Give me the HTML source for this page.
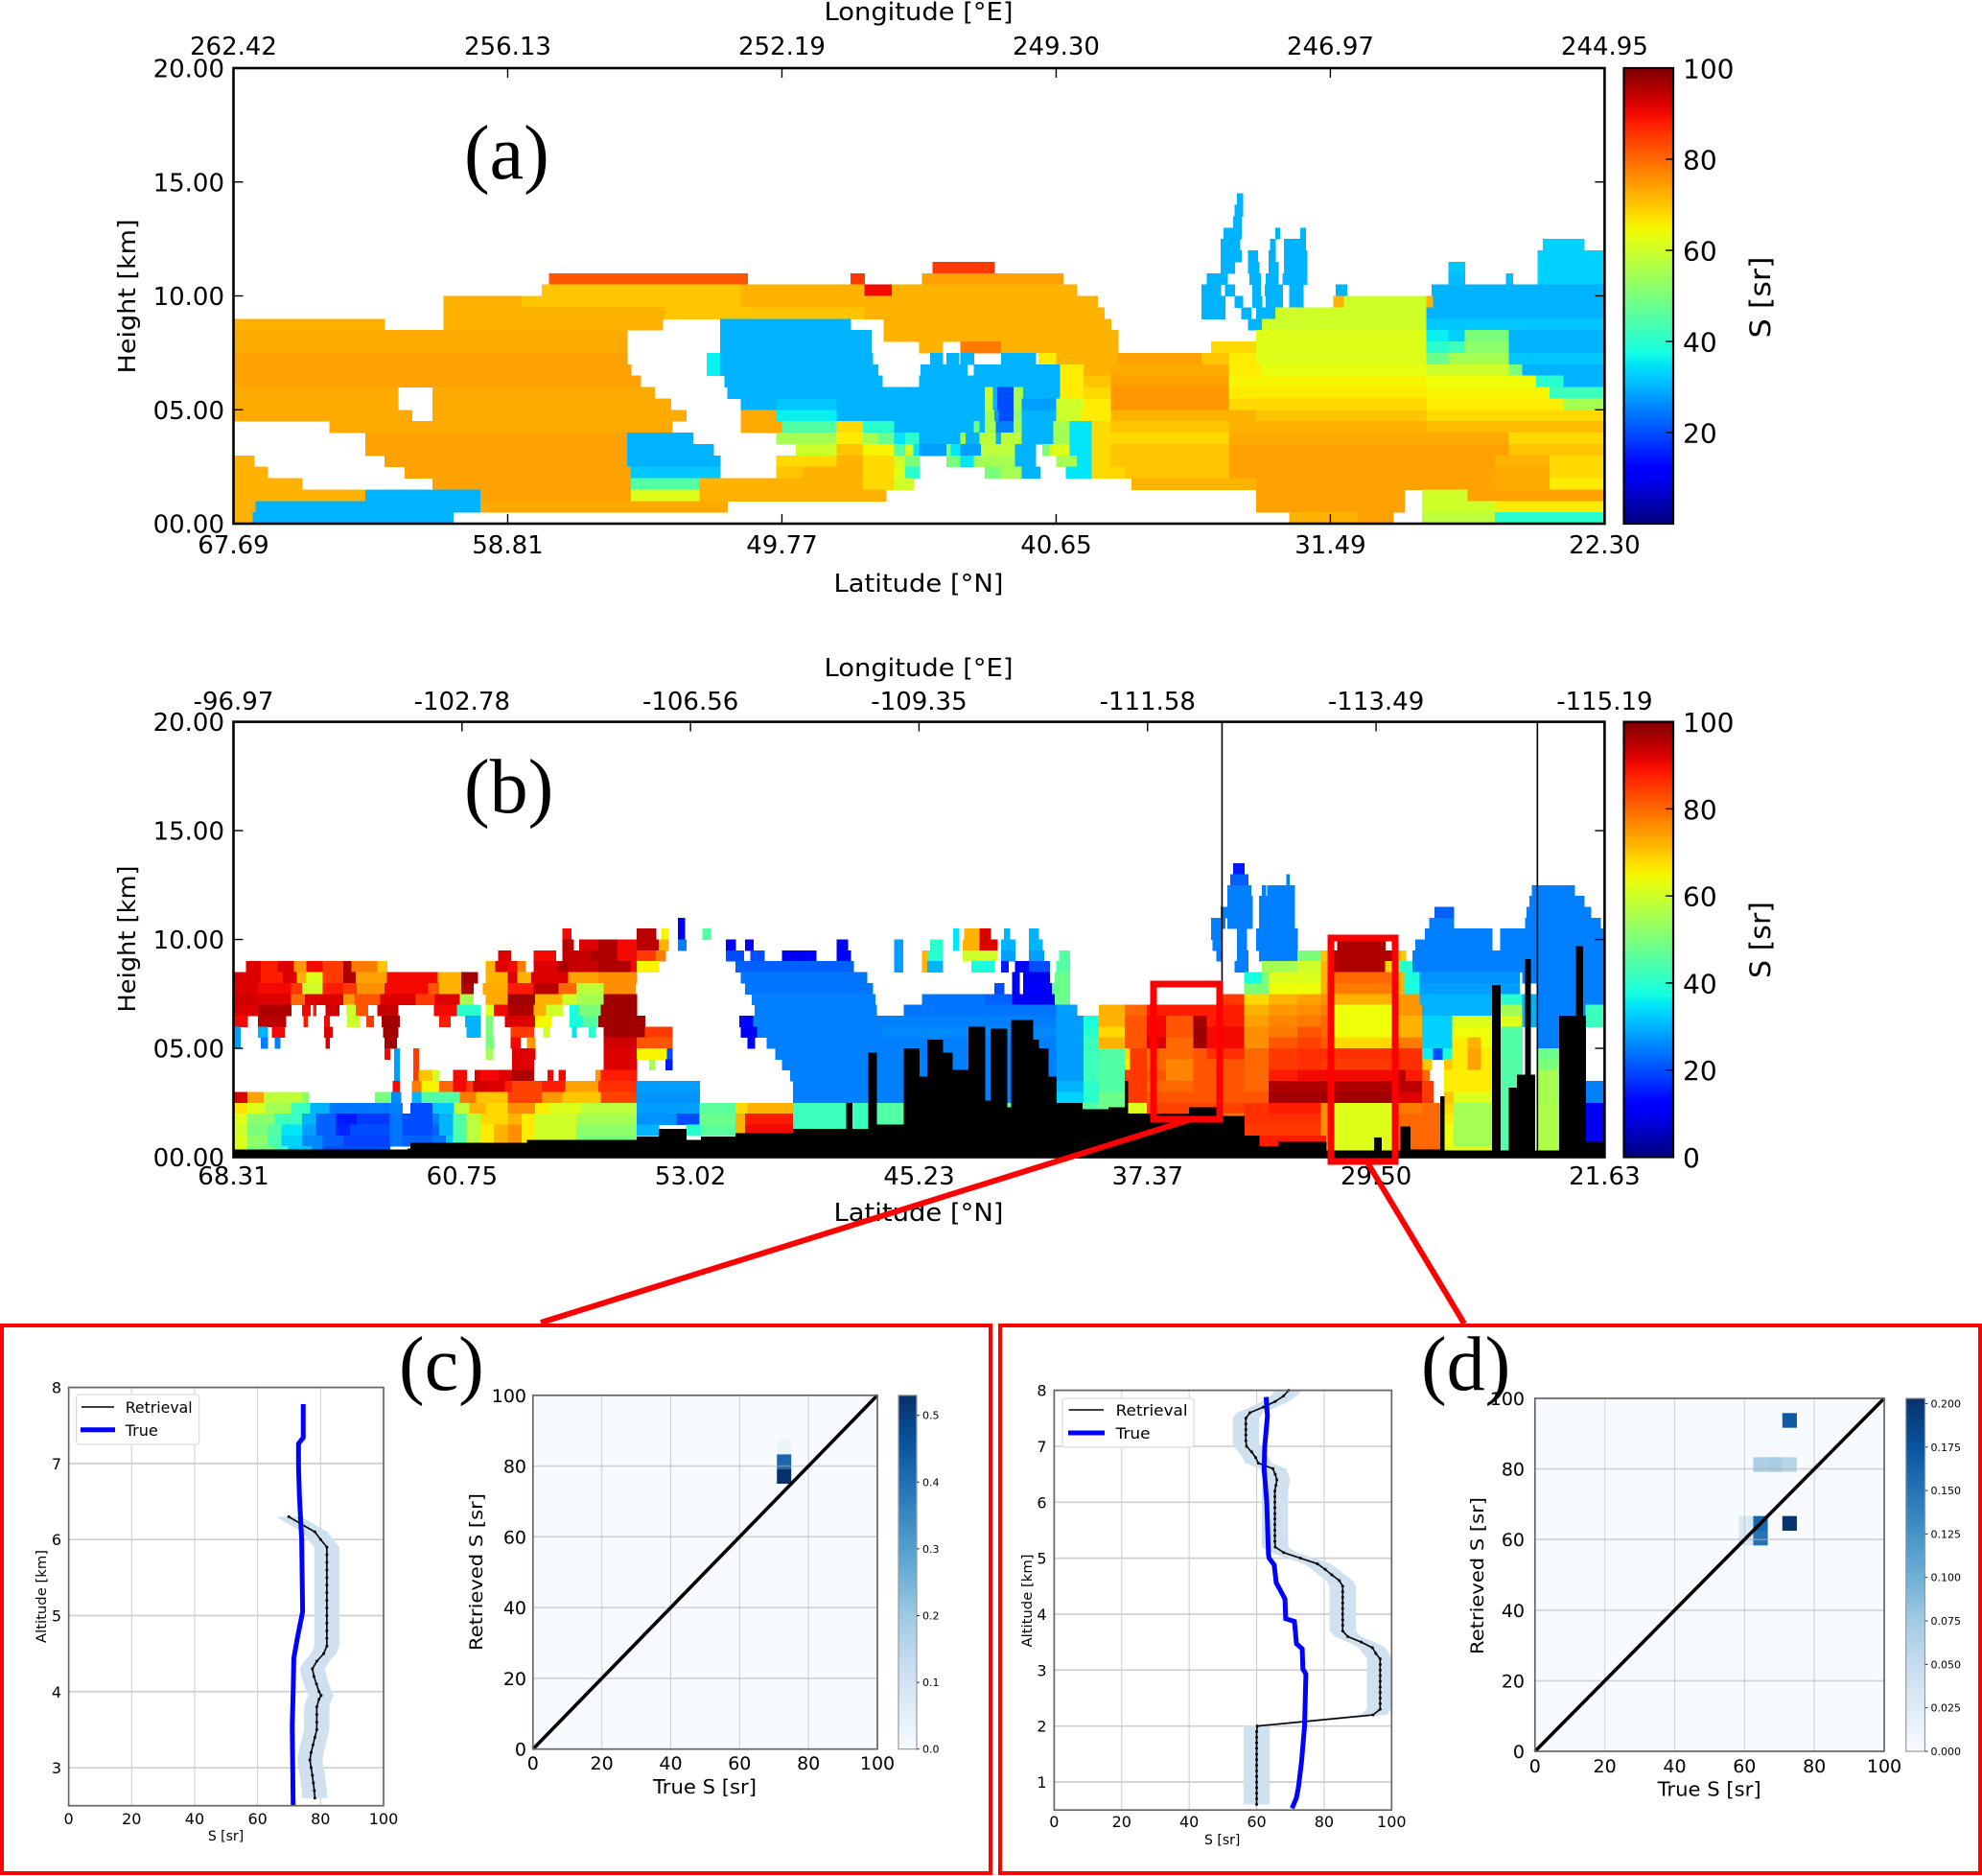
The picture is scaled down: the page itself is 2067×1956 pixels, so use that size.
<!DOCTYPE html>
<html lang="en">
<head>
<meta charset="utf-8">
<title>Lidar ratio curtains and profiles</title>
<style>
html,body{margin:0;padding:0;background:#fff;}
svg{display:block;}
text{font-family:"DejaVu Sans","Liberation Sans",sans-serif;fill:#000;}
.panel{font-family:"Liberation Serif","DejaVu Serif",serif;font-size:80px;}
</style>
</head>
<body>
<svg id="fig" xmlns="http://www.w3.org/2000/svg" width="2067" height="1956" viewBox="0 0 2067 1956">
  <defs id="defs"></defs>
  <g id="layer-a"></g>
  <g id="layer-b"></g>
  <g id="layer-c"></g>
  <g id="layer-d"></g>

  <text class="panel" x="484" y="186">(a)</text>
  <text class="panel" x="484" y="847">(b)</text>
  <text class="panel" x="416" y="1449">(c)</text>
  <text class="panel" x="1482" y="1449">(d)</text>

  <text x="958" y="21" font-size="26" text-anchor="middle" textLength="197" lengthAdjust="spacingAndGlyphs">Longitude  [°E]</text>
  <text x="958" y="617" font-size="26" text-anchor="middle" textLength="177" lengthAdjust="spacingAndGlyphs">Latitude  [°N]</text>
  <text transform="translate(141,309) rotate(-90)" font-size="25" text-anchor="middle" textLength="161" lengthAdjust="spacingAndGlyphs">Height [km]</text>
  <text transform="translate(1846,310) rotate(-90)" font-size="29" text-anchor="middle" textLength="85" lengthAdjust="spacingAndGlyphs">S [sr]</text>

  <text x="958" y="705" font-size="26" text-anchor="middle" textLength="197" lengthAdjust="spacingAndGlyphs">Longitude  [°E]</text>
  <text x="958" y="1273" font-size="26" text-anchor="middle" textLength="177" lengthAdjust="spacingAndGlyphs">Latitude  [°N]</text>
  <text transform="translate(141,979) rotate(-90)" font-size="25" text-anchor="middle" textLength="153" lengthAdjust="spacingAndGlyphs">Height [km]</text>
  <text transform="translate(1846,980) rotate(-90)" font-size="29" text-anchor="middle" textLength="80" lengthAdjust="spacingAndGlyphs">S [sr]</text>

  <text x="235.5" y="1919" font-size="14" text-anchor="middle">S [sr]</text>
  <text transform="translate(48,1664.5) rotate(-90)" font-size="14" text-anchor="middle" textLength="97" lengthAdjust="spacingAndGlyphs">Altitude [km]</text>
  <text x="735" y="1870" font-size="20" text-anchor="middle" textLength="108" lengthAdjust="spacingAndGlyphs">True S [sr]</text>
  <text transform="translate(503,1639) rotate(-90)" font-size="19" text-anchor="middle" textLength="164" lengthAdjust="spacingAndGlyphs">Retrieved S [sr]</text>

  <text x="1274.7" y="1923" font-size="14" text-anchor="middle">S [sr]</text>
  <text transform="translate(1076,1669) rotate(-90)" font-size="14" text-anchor="middle" textLength="97" lengthAdjust="spacingAndGlyphs">Altitude [km]</text>
  <text x="1782.6" y="1872.6" font-size="20" text-anchor="middle" textLength="108" lengthAdjust="spacingAndGlyphs">True S [sr]</text>
  <text transform="translate(1547,1643) rotate(-90)" font-size="19" text-anchor="middle" textLength="164" lengthAdjust="spacingAndGlyphs">Retrieved S [sr]</text>

  <g>
    <rect x="79.6" y="1454" width="128" height="52" rx="3" fill="#fff" fill-opacity="0.85" stroke="#ddd" stroke-width="1.3"/>
    <line x1="85" x2="119" y1="1467" y2="1467" stroke="#000" stroke-width="1.6"/>
    <line x1="84" x2="120" y1="1490.7" y2="1490.7" stroke="#0000ff" stroke-width="5"/>
    <text x="130.7" y="1473" font-size="16" textLength="70" lengthAdjust="spacingAndGlyphs">Retrieval</text>
    <text x="130.7" y="1497" font-size="16" textLength="34" lengthAdjust="spacingAndGlyphs">True</text>
  </g>
  <g>
    <rect x="1108" y="1458" width="137" height="51" rx="3" fill="#fff" fill-opacity="0.85" stroke="#ddd" stroke-width="1.3"/>
    <line x1="1114.7" x2="1151" y1="1470" y2="1470" stroke="#000" stroke-width="1.6"/>
    <line x1="1114" x2="1152" y1="1494" y2="1494" stroke="#0000ff" stroke-width="5"/>
    <text x="1163.6" y="1476" font-size="16" textLength="75" lengthAdjust="spacingAndGlyphs">Retrieval</text>
    <text x="1163.6" y="1500" font-size="16" textLength="36" lengthAdjust="spacingAndGlyphs">True</text>
  </g>

  <g fill="none" stroke="#ff0000">
    <rect x="1203" y="1026" width="69" height="141" stroke-width="7"/>
    <rect x="1388" y="978" width="67" height="233" stroke-width="7"/>
    <line x1="1239" y1="1168" x2="564" y2="1379" stroke-width="6"/>
    <line x1="1426" y1="1212" x2="1527" y2="1380" stroke-width="6"/>
    <rect x="2" y="1382" width="1031" height="571" stroke-width="4"/>
    <rect x="1043" y="1382" width="1022" height="571" stroke-width="4"/>
  </g>
</svg>

<script>
/* ---------- panel (a) curtain: lower edge of each 0.5 km row, then S,xEnd run pairs (x = % along track, S 0 = no data) ---------- */
const heightsA = [14,13.5,13,12.5,12,11.5,11,10.5,10,9.5,9,8.5,8,7.5,7,6.5,6,5.5,5,4.5,4,3.5,3,2.5,2,1.5,1,0.5,0];
const runsA = [
[0,73.2,30,73.6,0,100],
[0,73,30,73.6,0,100],
[0,72.9,30,73.5,0,100],
[0,72.2,30,73.5,0,76,30,76.3,0,77.8,30,78.2,0,100],
[0,72,30,73.4,0,75.6,30,76,0,76.6,30,78.2,0,95.5,33,98.5,0,100],
[0,72,30,73.5,0,74,30,74.7,0,75.5,30,76,0,76.6,30,78.3,0,95.1,33,100],
[0,51,85,55.5,0,72,30,73,0,74,30,74.8,0,75.5,30,76.2,0,76.6,30,78.3,0,88.6,32,89.8,0,95.1,33,100],
[0,23,82,37.5,0,45,85,46,0,50.2,74,60.5,0,71,30,72.5,0,74.1,30,74.9,0,75.3,30,76.2,0,76.5,30,78.3,0,88.6,31,89.8,0,92.8,31,93.3,0,95.1,33,100],
[0,22.5,70,37,72,46,90,48,72,61.5,0,70.6,30,72,0,72.3,30,73,0,74.3,30,74.9,0,75.2,30,76.5,0,77,30,78,0,80.4,30,81.2,0,87.4,30,100],
[0,15.3,72,21,70,37,72,63,0,70.6,30,72.3,0,73,30,73.6,0,74.3,30,75,0,75.3,30,76.5,0,77,30,78,0,80.2,72,81,60,87,72,87.5,30,100],
[0,15.3,72,31.5,70,46,72,63.5,0,70.6,30,72.3,0,73.5,30,74.2,0,74.6,30,76,60,87,30,100],
[72,11,0,15.3,72,31.3,0,35.5,30,45,0,47.4,72,64,0,74,30,75,60,87,32,100],
[73,28.7,0,35.5,30,46.5,0,47.4,72,64.5,0,74.6,62,87,36,88.6,33,89.8,50,93,30,100],
[73,28.7,0,35.5,30,46.5,0,50,72,51.7,0,53,78,56,72,64.5,0,71.3,68,74.6,62,87,40,88.6,42,89.8,52,93,30,100],
[74,28.7,0,34.5,36,35.5,30,46.6,0,50.8,30,51.7,0,52,30,52.9,0,53,30,54,0,56,30,58.5,0,58.7,66,60,72,64.5,74,70.6,70,72.6,66,74.6,62,87,48,88.6,55,93,32,100],
[74,29,0,34.5,36,35.5,30,47,0,50.1,30,53.5,0,54,30,60.3,66,62,72,64,73,72.6,66,75,63,87,60,93,50,94,30,100],
[74,29.7,0,35.8,30,47.3,0,50,30,60.3,66,62,70,64,74,72.6,65,87,64,95,40,97,30,100],
[73,12,0,14.5,73,30.7,0,36,30,54.8,60,55.4,30,55.7,20,56.9,55,57.6,30,60.3,66,62,68,64,75,72.6,66,87,65,96,42,100],
[73,12,0,14.5,73,31.9,0,37,30,39.6,32,44,30,54.8,58,55.4,30,55.7,20,56.9,55,57.5,28,60,60,62,66,64,75,72.6,68,87,66,97,55,100],
[73,13,0,14.5,73,33,0,37,73,39.6,36,44,30,54.8,55,55.5,28,55.8,20,56.9,52,57.5,30,60,60,61.8,66,64,72,74.6,70,87,68,100],
[0,7,73,32,0,37,73,40,45,44,68,45.9,40,48.2,30,54,48,54.4,30,54.8,55,55.6,25,56.9,55,57.5,30,59.8,55,61,35,62.6,68,64,70,72.6,72,87,71,100],
[0,9.6,74,28.7,30,33.5,0,39.6,55,44,66,45.9,55,47,48,48.2,35,49,40,50,30,53,55,53.4,30,54.4,58,55.6,30,56,58,57.5,30,59.8,55,61,35,62.6,68,72.6,73,93,68,100],
[0,9.6,74,28.7,30,35,0,41,60,44,70,45.9,65,48.2,45,49,60,49.6,35,50,28,52,50,52.3,35,53,28,54.5,58,57,30,58.5,0,59,50,59.5,62,61,35,62.6,68,64,70,72.6,74,93,70,100],
[72,1.5,0,11,74,28.7,30,35.5,0,39.6,68,44,72,45.9,68,48.2,60,49,50,50,0,52,50,53,35,54,55,57,30,58.5,0,60,55,61.5,35,62.6,68,64,70,72.6,74,92,72,96,68,100],
[72,2.5,0,12.5,74,29,32,35.5,0,39.6,70,41.5,72,45.9,68,48.2,62,49,40,50,0,54.8,50,56,55,57.5,30,58.8,0,60.7,35,62.6,68,65,70,72.6,74,92,73,96,68,100],
[72,5,0,14.5,74,29,45,34,72,45.9,68,48.2,60,49.6,0,65.5,72,74.6,74,92,73,96,66,100],
[72,9.6,30,18,74,29,62,34,72,47.6,0,74.6,74,85.4,0,86.7,60,90,74,100],
[72,1.6,30,18,73,36,0,74.6,74,85.4,0,86.7,60,92,66,100],
[72,1.4,30,16,0,77,72,82,74,84.6,0,86.7,58,92,40,100]
];

/* ---------- panel (b) curtain ---------- */
const heightsB = [13,12.5,12,11.5,11,10.5,10,9.5,9,8.5,8,7.5,7,6.5,6,5.5,5,4.5,4,3.5,3,2.5,2,1.5,1,0.5,0];
const runsB = [
[0,72.9,15,73.7,0,100],
[0,72.7,22,74,0,76.8,25,77,0,100],
[0,72.5,25,74.2,0,75,25,75.3,0,75.4,25,77.4,0,94.7,25,97.8,0,100],
[0,72.5,25,74.3,0,74.8,25,77.4,0,94.5,25,98.5,0,100],
[0,72,25,74.3,0,74.8,25,77.4,0,87.6,22,89,0,94.3,25,99,0,100],
[0,32.4,12,32.9,0,71.3,25,72.3,0,72.5,25,74.3,0,74.8,25,77.4,0,87.2,25,89,0,94.2,25,99.7,0,100],
[0,24,90,24.6,0,29.4,95,30.8,0,31.2,65,31.7,0,32.4,12,32.9,0,34.2,45,34.8,0,52.5,35,52.9,0,53.3,72,54.4,92,55.2,0,56.2,30,56.6,0,58,30,58.7,0,71.3,25,72.1,0,73.2,25,73.9,0,74.6,25,77.6,0,86.9,25,91.8,0,92.4,25,100],
[0,24,95,24.8,0,25.2,92,26.6,96,28,90,29.4,95,31,72,31.7,0,32.4,25,33,0,35.9,10,36.6,0,37.3,12,37.9,0,44,10,44.8,0,48.2,28,48.8,0,50.8,40,51.7,0,52.5,35,52.9,0,53.2,72,54.4,92,55.7,0,56,30,57,0,58,30,59,0,71.4,25,72,0,73.2,25,73.9,0,74.6,25,77.6,0,80.5,96,84,0,86.2,25,91.8,0,92.4,25,100],
[0,19.3,92,20.2,0,21.9,90,23.5,0,24,94,26,96,28,90,29.4,85,30.8,78,31.5,0,35.9,20,37.2,0,37.7,20,38.7,0,40,10,41.7,12,42.5,0,44,12,45,0,48.2,28,48.8,0,50.2,72,50.6,40,51.7,0,53.2,60,55.7,0,56,28,57,0,58,28,59.1,0,60.2,45,61,0,71.7,25,72.1,0,73.2,25,74,0,74.8,25,77.6,50,79.3,70,80.3,96,84.5,70,85.5,0,86,25,100],
[0,0.9,92,2,88,3.2,92,4.4,75,5.3,90,6.5,85,8,96,8.6,78,10.5,70,11.2,0,18.4,72,19.1,92,20,90,20.7,78,21.3,0,21.9,92,23.7,97,24.4,94,26.6,96,29,90,29.4,65,31,0,36.6,22,45.2,0,48.2,28,48.8,0,50.2,72,50.6,30,51.7,0,53.8,38,55.5,0,56,15,56.5,0,57,12,58,20,59.5,0,60,45,61,0,73,25,74,0,75,55,77.6,60,79.3,72,80.3,96,84,68,85,40,86,25,100],
[92,2,88,3.6,92,4.6,72,5.3,62,6.5,85,8,96,8.9,74,11.2,90,14.9,72,16.6,97,17.8,0,18.4,72,20,92,20.7,72,21.7,92,24.4,74,26.6,76,29.4,0,37,24,46.2,0,56.8,10,57.3,0,57.6,10,59.5,0,59.9,48,61,0,73.7,38,75,50,75.5,62,79.3,72,80.3,80,84.5,72,85.4,38,86.5,27,93.8,0,94,25,100],
[92,1.8,90,4.2,85,5,60,6.5,88,8,85,9,76,11,90,14.2,82,15,72,16.6,96,17.5,0,18.2,73,20,88,21.9,95,23.7,80,25,58,27,76,29.3,0,37.3,24,46.6,0,55.5,20,56.2,0,56.8,10,57.3,0,57.6,12,59.7,48,61,0,73.7,50,75.5,64,79.3,72,80.3,78,84.5,72,85.4,38,86.5,28,93.8,0,95.1,25,100],
[93,1.6,92,4.2,80,5.2,92,8,75,8.8,82,10.7,92,13.3,85,14.7,92,16.5,55,17.5,0,18.4,73,20,97,22,72,24,60,25,55,27,97,29.4,0,37.8,25,46.8,0,50.2,24,54.8,22,56.8,10,59.9,48,61,0,72.1,85,73.7,68,75.5,72,77.6,74,79.3,76,80.3,72,84.5,75,86.5,30,92.4,40,94,30,95.1,25,100],
[92,1.8,96,4.2,0,5,90,5.6,0,5.8,88,6,0,6.7,93,7.7,0,8.2,60,8.9,82,9.8,0,10.5,94,12,0,14.6,90,16.3,40,18,0,18.4,62,19,90,20,96,21.9,72,22.8,60,24,0,24.5,38,25.2,50,26.8,97,29.4,0,38,25,46.9,0,48.9,24,60,28,61.5,0,63.1,72,65,80,66.6,88,73.7,72,75.5,75,77.6,76,79.3,78,80.3,64,84.5,75,86.7,30,92.4,55,94,30,95.1,25,98.6,42,100],
[90,1,0,1.8,95,3.8,0,5.1,88,5.4,0,6.6,90,7,0,8.3,60,9.2,0,9.7,85,10.2,0,10.8,97,12.1,0,15,88,15.8,0,16.9,30,18,0,18.4,50,18.9,0,19.8,92,22,65,23.2,0,24.5,38,25.5,45,26.6,97,30,0,36.9,13,37.9,25,60,28,62,38,63.1,72,65,82,66.6,90,68,82,70,97,71,88,73.7,74,75.5,77,77.6,78,79.3,80,80.3,64,84.5,72,86.7,33,88.9,62,91.8,30,92.4,62,94,30,95.1,25,98.6,42,100],
[28,0.5,0,1.8,30,2.5,0,2.8,90,3.7,0,6.6,92,7.2,0,10.9,97,12,0,17,30,18,0,18.4,50,18.9,0,20.2,85,21.9,0,22.6,60,23,0,24.7,35,25,0,25.9,40,26.4,0,27,97,30,85,32,0,37,12,38.2,25,47.3,26,60,28,62,40,63.1,68,65,82,66.6,90,68,82,70,98,71,90,73.7,76,75.5,78,77.6,82,79.3,80,80.3,64,84.5,72,86.7,33,88.9,64,91.8,45,94,0,95.1,25,98.6,0,100],
[28,0.5,0,2,25,2.5,0,3,25,3.4,0,6.7,92,7,0,11,97,11.9,0,18.4,50,19,0,20.2,90,20.9,0,21.4,75,22,0,27,93,29.4,82,32,0,37.5,12,38,0,38.9,25,60,28,62,42,63.1,72,65,82,66.6,92,68,80,70,97,71,90,73.7,76,75.5,82,77.6,84,79.3,82,80.3,68,84.5,78,86.7,33,88.9,66,90,72,91,64,91.8,45,94,0,95.1,25,96.7,0,100],
[0,11,90,11.4,0,11.7,28,12.1,0,13.1,85,13.5,0,18.4,55,18.9,0,20.3,92,22,0,27,92,29.4,65,31.6,20,32,0,39.5,25,60,28,62,42,63.1,45,65,68,65.4,85,66.6,80,70,82,71,86,73.7,80,75.5,85,77.6,86,86.7,36,87.5,20,88.2,38,88.9,66,90,74,91,66,91.8,45,94,0,95.1,48,96.7,0,100],
[0,11.7,28,12.1,0,13.1,85,13.5,0,20.3,92,21.9,0,27,92,29.4,0,30.3,55,30.7,0,31.5,15,32,0,40,25,60,28,62,42,63.1,45,65,66,65.4,85,66.6,80,68,77,70,82,73.7,80,75.5,85,77.6,86,79.3,85,84.5,86,86.7,70,87.4,0,88.3,70,88.9,66,90,74,91,66,91.8,45,94,0,95.1,50,96.7,0,100],
[0,11.7,28,12.1,0,13.1,85,13.5,70,14.5,60,15,0,16,90,17,0,17.6,92,18,90,19.3,92,20.3,96,21.9,0,22.9,90,23.3,0,23.7,90,24.2,0,26.4,75,26.8,88,29.4,0,40.6,25,60,28,62,42,63.1,45,65,85,66.6,82,68,77,70,82,73.7,80,75.5,88,77.6,90,84.5,95,85.5,88,86.7,80,87.2,0,88.3,66,91.8,45,94,0,95.1,55,96.7,0,100],
[0,11.6,90,12.1,0,13,78,13.7,65,15,80,16,90,17,85,17.5,93,18.6,92,19.8,88,20.3,84,22.5,88,24.2,74,26.6,86,29.4,28,34,0,40.8,25,60,30,62,40,63.1,45,65,85,66.6,80,70,82,73.7,80,75.5,96,84.5,95,86.7,85,87.5,0,88.3,66,91.8,45,94,0,95.1,55,96.7,0,98.6,25,100],
[92,1,74,2.2,58,5,52,5.5,0,10.3,50,11.5,26,12.2,0,13,30,13.7,45,16.5,78,17.7,70,20,84,22.5,75,24,70,26.8,84,29.4,27,34,0,40.8,25,60,33,62,40,63.1,48,65,85,66.6,82,75.5,97,84.5,92,86.7,85,87.5,0,88.3,70,89,62,91.8,45,94,0,95.1,55,96.7,0,98.6,25,100],
[67,1,62,2.3,55,4.2,42,5.6,30,7,24,11.4,25,12.3,0,12.9,20,14.5,32,16.1,58,17.2,72,18.4,68,20,76,22,66,23,62,25.4,58,29.4,28,34,46,36.6,68,37.5,72,40.8,42,47,45,60,38,62,45,63,48,65.2,62,66.6,84,73.7,86,75.5,88,79.3,76,80.3,62,84.5,78,86.7,80,88.3,68,89,55,91.8,45,94,0,95.1,56,96.7,0,98.6,12,100],
[62,1,52,3,42,5,30,6,22,7.5,15,9,18,11.4,24,12.3,20,14.5,25,15,30,16,45,17,58,18,68,20,72,21,66,22,60,25,55,29.4,27,32.3,20,34,48,36.6,72,37.3,88,40.8,42,47,45,72,78,73.7,86,79.3,76,80.3,62,84.5,80,88.3,66,89,55,91.8,45,94,0,95.1,56,96.7,0,98.6,10,100],
[60,1,50,2.5,45,3.5,35,5,28,6,22,7.5,16,8.5,20,11.4,24,12.3,20,14.5,22,15,30,16,45,17,58,18,66,19,72,20,76,21,66,22,60,25,52,29.4,30,31,0,33,40,34.1,46,36.6,72,37.3,90,40.8,42,47,0,73.7,85,79.3,76,80.3,62,84.5,80,88.3,64,89,55,91.8,45,94,0,95.1,56,96.7,0,98.6,10,100],
[62,1,52,2.5,44,3.5,33,5,26,6.5,22,8,19,11.4,24,12.3,22,14.5,24,15.5,32,16,44,17,58,18,66,19,72,20,76,21,66,22,60,25,50,29.4,0,74,88,79.7,70,80.3,62,84.5,80,88.3,64,89,55,91.8,45,94,0,95.1,56,96.7,0,98.6,10,100],
[62,1,50,3,42,4,32,5.7,26,6.5,20,11.4,0,79.7,62,84.5,80,88.3,62,91.8,45,94,0,95.1,56,96.7,0,100]
];
/* surface: left edge of each ground segment (% along track) and its height (km) */
const groundX = [0,12.7,12.9,21.4,29.4,31,33,34.1,36.6,40.8,44.7,45.1,46.3,46.9,48.9,50,50.6,51.7,52.4,53.6,54.8,55.2,56.4,56.7,58.3,58.7,59.4,60,61.9,63.8,65,65.2,69.7,72.1,73.7,74.8,76.2,79.7,83.2,83.7,85.1,85.8,88,88.3,91.8,92.4,93,93.6,94.2,94.6,94.9,96.7,97.9,98.4,98.6];
const groundKm = [0.36,0.4,0.65,0.8,0.95,1.3,0.8,0.95,1.1,1.3,2.5,1.3,4.8,1.5,5,3.7,5.4,4.8,4,6,2.6,5.9,2.3,6.3,5.4,5,3.7,2.5,2.2,2.3,3.5,2,2.3,1.9,1,0.5,0.7,0.3,0.9,0.3,1.4,0.35,2.8,0.3,7.9,0.3,3.2,3.8,9.1,3.8,0.3,6.5,9.7,6.5,0.7];
/* vertical transmission markers in (b), % along track */
const markerLinesB = [72.1,95.1];

/* ---------- axis tick labels ---------- */
const heightTicks = [0,5,10,15,20];
const heightLabels = ["00.00","05.00","10.00","15.00","20.00"];
const topLabelsA = ["262.42","256.13","252.19","249.30","246.97","244.95"];
const bottomLabelsA = ["67.69","58.81","49.77","40.65","31.49","22.30"];
const topLabelsB = ["-96.97","-102.78","-106.56","-109.35","-111.58","-113.49","-115.19"];
const bottomLabelsB = ["68.31","60.75","53.02","45.23","37.37","29.50","21.63"];
const colorbarTicksA = [20,40,60,80,100];
const colorbarTicksB = [0,20,40,60,80,100];

/* ---------- panel (c) profiles ---------- */
const trueAltC = [7.78,7.34,7.26,6.96,6.56,6,5.05,4.72,4.44,4,3.55,2.5];
const trueSC = [74.5,74.5,73,73,73.3,74,74.3,72.7,71.5,71.3,71,71.3];
const retAltC = [2.6,2.7,2.8,2.9,3,3.1,3.2,3.3,3.4,3.5,3.6,3.7,3.8,3.9,3.95,4,4.1,4.2,4.3,4.4,4.5,4.6,4.7,4.8,4.9,5,5.1,5.2,5.3,5.4,5.5,5.6,5.7,5.8,5.9,6,6.1,6.2,6.3];
const retSC = [78.2,78,77.7,77.4,77,76.6,77,77.6,78.2,78.8,78.8,78.8,78.8,79.5,80.2,79.5,78.7,77.9,77.4,78.8,81,82,82,82,82,82,82,82,82,82,82,82,82,82,82,80,78.2,74,69.9];
const bandHalfWidthC = 4;
const heatXBinsC = [17,17,17];
const heatYBinsC = [18,19,20];
const heatValuesC = [0.53,0.42,0.03];

/* ---------- panel (d) profiles ---------- */
const trueAltD = [7.88,7.54,7,6.6,6,5.07,5,4.88,4.56,4.43,4.27,3.92,3.87,3.47,3.38,3.02,2.93,2,1.36,0.91,0.72,0.53];
const trueSD = [62.8,63.2,62.4,62.2,63,63.5,63.7,65.2,65.8,67,68.4,68.6,71.2,71.8,73.5,73.7,74.6,74.2,73.3,72.4,71.8,70.5];
const retAltD = [0.6,0.7,0.8,0.9,1,1.1,1.2,1.3,1.4,1.5,1.6,1.7,1.8,1.9,2,2.2,2.3,2.4,2.5,2.6,2.7,2.8,2.9,3,3.1,3.2,3.3,3.4,3.5,3.6,3.7,3.8,3.9,4,4.1,4.2,4.3,4.4,4.5,4.6,4.7,4.8,4.9,5,5.1,5.2,5.3,5.4,5.5,5.6,5.7,5.8,5.9,6,6.1,6.2,6.3,6.4,6.5,6.6,6.7,6.8,6.9,7,7.1,7.2,7.3,7.4,7.5,7.6,7.7,7.8,7.9,8];
const retSD = [60,60,60,60,60,60,60,60,60,60,60,60,60,60,60.2,94.5,96.6,96.6,96.6,96.6,96.6,96.6,96.6,96.6,96.6,96.6,95.3,94.3,91,87,85.5,85.5,85.5,85.5,85.5,85.5,85.5,85.5,85.5,84.5,82.3,80.3,78,73,68,65.5,65.4,65.4,65.4,65.4,65.4,65.4,65.4,65.4,65.4,65.4,65.7,66,65.5,64.8,60.5,59.7,58.5,57,56.8,56.8,56.8,56.8,56.8,58,62,65.5,68,69.5];
const bandHalfWidthD = 3.9;
const heatXBinsD = [17,15,16,17,14,15,17,14,15];
const heatYBinsD = [22,19,19,19,15,15,15,14,14];
const heatValuesD = [0.17,0.068,0.072,0.06,0.03,0.16,0.2,0.03,0.15];

const profileXTicks = [0,20,40,60,80,100];
const profileYTicksC = [3,4,5,6,7,8];
const profileYTicksD = [1,2,3,4,5,6,7,8];
const heatTicks = [0,20,40,60,80,100];
const cbarTicksC = [0,0.1,0.2,0.3,0.4,0.5];
const cbarTicksD = [0,0.025,0.05,0.075,0.1,0.125,0.15,0.175,0.2];
const cbarLabelsC = ["0.0","0.1","0.2","0.3","0.4","0.5"];
const cbarLabelsD = ["0.000","0.025","0.050","0.075","0.100","0.125","0.150","0.175","0.200"];

/* ---------- helpers ---------- */
const NS = "http://www.w3.org/2000/svg";
function mk(parent, tag, attrs){
  const el = document.createElementNS(NS, tag);
  for (const k in attrs) el.setAttribute(k, attrs[k]);
  parent.appendChild(el);
  return el;
}
function interp(pts, t){
  for (let i = 1; i < pts.length; i++){
    if (t <= pts[i][0]){
      const a = pts[i-1], b = pts[i];
      return a[1] + (b[1]-a[1]) * (t-a[0]) / (b[0]-a[0]);
    }
  }
  return pts[pts.length-1][1];
}
const jetR = [[0,0],[0.35,0],[0.66,1],[0.89,1],[1,0.5]];
const jetG = [[0,0],[0.125,0],[0.375,1],[0.64,1],[0.91,0],[1,0]];
const jetB = [[0,0.5],[0.11,1],[0.34,1],[0.65,0],[1,0]];
function jet(s){
  const t = Math.max(0, Math.min(1, s/100));
  return "rgb(" + Math.round(255*interp(jetR,t)) + "," + Math.round(255*interp(jetG,t)) + "," + Math.round(255*interp(jetB,t)) + ")";
}
const bluesStops = [[247,251,255],[222,235,247],[198,219,239],[158,202,225],[107,174,214],[66,146,198],[33,113,181],[8,81,156],[8,48,107]];
function blues(t){
  const v = Math.max(0, Math.min(0.9999, t)) * 8;
  const i = Math.floor(v), f = v - i, a = bluesStops[i], b = bluesStops[i+1];
  return "rgb(" + Math.round(a[0]+(b[0]-a[0])*f) + "," + Math.round(a[1]+(b[1]-a[1])*f) + "," + Math.round(a[2]+(b[2]-a[2])*f) + ")";
}
const defs = document.getElementById("defs");
function gradient(id, colorFn){
  const g = mk(defs, "linearGradient", {id:id, x1:0, y1:1, x2:0, y2:0});
  for (let i = 0; i <= 40; i++){
    mk(g, "stop", {offset:(i/40), "stop-color":colorFn(i/40)});
  }
}
gradient("jetGrad", function(t){ return jet(t*100); });
gradient("bluesGrad", blues);

function label(parent, x, y, str, size, anchor, name){
  const t = mk(parent, "text", {x:x, y:y, "font-size":size, "text-anchor":anchor});
  t.textContent = str;
  
  
  return t;
}

/* ---------- curtain panel ---------- */
function curtain(layerId, box, heights, runs, topLabels, bottomLabels, cbTicks, cbox, lab){
  const layer = document.getElementById(layerId);
  const xScale = function(p){ return box.left + p/100*(box.right-box.left); };
  const yScale = function(km){ return box.bottom - km/20*(box.bottom-box.top); };
  const cells = mk(layer, "g", {"shape-rendering":"crispEdges"});
  
  
  heights.forEach(function(h, r){
    const row = runs[r];
    let start = 0;
    for (let i = 0; i < row.length; i += 2){
      const s = row[i], end = row[i+1];
      if (s > 0){
        const cell = mk(cells, "rect", {x:xScale(start), y:yScale(h+0.5), width:xScale(end)-xScale(start)+0.5, height:yScale(h)-yScale(h+0.5)+0.5, fill:jet(s)});
        
        
      }
      start = end;
    }
  });
  if (lab.ground){
    const g = mk(layer, "g", {"shape-rendering":"crispEdges"});
    
    
    groundX.forEach(function(x, i){
      const next = i+1 < groundX.length ? groundX[i+1] : 100;
      const bar = mk(g, "rect", {x:xScale(x), y:yScale(groundKm[i]), width:xScale(next)-xScale(x)+0.5, height:yScale(0)-yScale(groundKm[i]), fill:"#000"});
      
      
    });
    markerLinesB.forEach(function(p){
      const ln = mk(layer, "line", {x1:xScale(p), x2:xScale(p), y1:box.top, y2:box.bottom, stroke:"#000", "stroke-width":1.6});
      
      
    });
  }
  const frame = mk(layer, "rect", {x:box.left, y:box.top, width:box.right-box.left, height:box.bottom-box.top, fill:"none", stroke:"#000", "stroke-width":2.6});
  
  
  const nTop = topLabels.length;
  topLabels.forEach(function(str, i){
    const p = 100*i/(nTop-1), x = xScale(p);
    if (i > 0 && i < nTop-1){
      const t1 = mk(layer, "line", {x1:x, x2:x, y1:box.top, y2:box.top+10, stroke:"#000", "stroke-width":1.4});
      
      
      const t2 = mk(layer, "line", {x1:x, x2:x, y1:box.bottom, y2:box.bottom-10, stroke:"#000", "stroke-width":1.4});
      
      
    }
    label(layer, x, lab.topY, str, 26, "middle", "top-tick-label");
    label(layer, x, lab.bottomY, bottomLabels[i], 26, "middle", "bottom-tick-label");
  });
  heightTicks.forEach(function(v, i){
    const y = yScale(v);
    if (v > 0 && v < 20){
      const t1 = mk(layer, "line", {x1:box.left, x2:box.left+10, y1:y, y2:y, stroke:"#000", "stroke-width":1.4});
      
      
      const t2 = mk(layer, "line", {x1:box.right, x2:box.right-10, y1:y, y2:y, stroke:"#000", "stroke-width":1.4});
      
      
    }
    label(layer, 234, y+9.5, heightLabels[i], 26, "end", "y-tick-label");
  });
  const bar = mk(layer, "rect", {x:cbox.left, y:box.top, width:cbox.right-cbox.left, height:box.bottom-box.top, fill:"url(#jetGrad)", stroke:"#000", "stroke-width":2.2});
  
  
  const cbY = function(v){ return box.bottom - v/100*(box.bottom-box.top); };
  cbTicks.forEach(function(v){
    const y = cbY(v);
    if (v > 0 && v < 100){
      const t = mk(layer, "line", {x1:cbox.right, x2:cbox.right-8, y1:y, y2:y, stroke:"#000", "stroke-width":1.4});
      
      
    }
    label(layer, 1755, y+10.5, String(v), 28, "start", "colorbar-tick-label");
  });
}
const boxA = {left:243.5, right:1673.4, top:71, bottom:546};
const boxB = {left:243.5, right:1673.4, top:752.6, bottom:1206.5};
const cbX = {left:1693.5, right:1745};
curtain("layer-a", boxA, heightsA, runsA, topLabelsA, bottomLabelsA, colorbarTicksA, cbX, {topY:57, bottomY:577, ground:false});
curtain("layer-b", boxB, heightsB, runsB, topLabelsB, bottomLabelsB, colorbarTicksB, cbX, {topY:740, bottomY:1235, ground:true});

/* ---------- profile + heatmap panel ---------- */
function profile(layerId, box, altMin, retAlt, retS, halfWidth, trueAlt, trueS, yTicks, heat, hbox, cbox, cbMax, cbTicks, cbLabels, lab){
  const layer = document.getElementById(layerId);
  const xScale = function(s){ return box.left + s/100*(box.right-box.left); };
  const yScale = function(a){ return box.bottom - (a-altMin)/(8-altMin)*(box.bottom-box.top); };
  const bg = mk(layer, "rect", {x:box.left, y:box.top, width:box.right-box.left, height:box.bottom-box.top, fill:"#fff"});
  
  
  profileXTicks.forEach(function(v){
    const g = mk(layer, "line", {x1:xScale(v), x2:xScale(v), y1:box.top, y2:box.bottom, stroke:"#cfcfcf", "stroke-width":1.1});
    
    
    label(layer, xScale(v), lab.xTickY, String(v), 16, "middle", "profile-x-tick-label");
  });
  yTicks.forEach(function(v){
    const g = mk(layer, "line", {x1:box.left, x2:box.right, y1:yScale(v), y2:yScale(v), stroke:"#cfcfcf", "stroke-width":1.7});
    
    
    label(layer, lab.yTickX, yScale(v)+6, String(v), 16, "end", "profile-y-tick-label");
  });
  const up = retS.map(function(s){ return Math.min(100, s+halfWidth); });
  const lo = retS.map(function(s){ return s-halfWidth; });
  let pts = [];
  retAlt.forEach(function(a,i){ pts.push(xScale(up[i])+","+yScale(a)); });
  for (let i = retAlt.length-1; i >= 0; i--){ pts.push(xScale(lo[i])+","+yScale(retAlt[i])); }
  const band = mk(layer, "polygon", {points:pts.join(" "), fill:"#cfe0ee"});
  
  
  const rl = mk(layer, "polyline", {points:retAlt.map(function(a,i){ return xScale(retS[i])+","+yScale(a); }).join(" "), fill:"none", stroke:"#000", "stroke-width":1.6});
  
  
  retAlt.forEach(function(a,i){
    const m = mk(layer, "circle", {cx:xScale(retS[i]), cy:yScale(a), r:1.5, fill:"#000"});
    
    
  });
  const tl = mk(layer, "polyline", {points:trueAlt.map(function(a,i){ return xScale(trueS[i])+","+yScale(a); }).join(" "), fill:"none", stroke:"#0000ff", "stroke-width":5});
  
  
  const fr = mk(layer, "rect", {x:box.left, y:box.top, width:box.right-box.left, height:box.bottom-box.top, fill:"none", stroke:"#666", "stroke-width":1.7});
  
  

  /* heatmap */
  const hx = function(s){ return hbox.left + s/100*(hbox.right-hbox.left); };
  const hy = function(s){ return hbox.bottom - s/100*(hbox.bottom-hbox.top); };
  const hb = mk(layer, "rect", {x:hbox.left, y:hbox.top, width:hbox.right-hbox.left, height:hbox.bottom-hbox.top, fill:"#f7fbff"});
  
  
  const binW = 100/24;
  heat.x.forEach(function(bx,i){
    const by = heat.y[i];
    const c = mk(layer, "rect", {x:hx(bx*binW), y:hy((by+1)*binW), width:hx((bx+1)*binW)-hx(bx*binW), height:hy(by*binW)-hy((by+1)*binW), fill:blues(heat.v[i]/cbMax)});
    
    
  });
  heatTicks.forEach(function(v){
    const g1 = mk(layer, "line", {x1:hx(v), x2:hx(v), y1:hbox.top, y2:hbox.bottom, stroke:"#b0b0b0", "stroke-opacity":0.55, "stroke-width":1.1});
    
    
    const g2 = mk(layer, "line", {x1:hbox.left, x2:hbox.right, y1:hy(v), y2:hy(v), stroke:"#b0b0b0", "stroke-opacity":0.55, "stroke-width":1.6});
    
    
    label(layer, hx(v), lab.hxTickY, String(v), 19, "middle", "heatmap-x-tick-label");
    label(layer, lab.hyTickX, hy(v)+7, String(v), 19, "end", "heatmap-y-tick-label");
  });
  const diag = mk(layer, "line", {x1:hx(0), y1:hy(0), x2:hx(100), y2:hy(100), stroke:"#000", "stroke-width":3.6});
  
  
  const hf = mk(layer, "rect", {x:hbox.left, y:hbox.top, width:hbox.right-hbox.left, height:hbox.bottom-hbox.top, fill:"none", stroke:"#666", "stroke-width":1.7});
  
  
  const cb = mk(layer, "rect", {x:cbox.left, y:hbox.top, width:cbox.right-cbox.left, height:hbox.bottom-hbox.top, fill:"url(#bluesGrad)", stroke:"#999", "stroke-width":1.2});
  
  
  cbTicks.forEach(function(v,i){
    const y = hbox.bottom - v/cbMax*(hbox.bottom-hbox.top);
    const t = mk(layer, "line", {x1:cbox.right, x2:cbox.right+3, y1:y, y2:y, stroke:"#333", "stroke-width":1});
    
    
    label(layer, cbox.right+6, y+4, cbLabels[i], 11, "start", "heatmap-colorbar-tick-label");
  });
}
profile("layer-c", {left:71.6, right:400, top:1446.6, bottom:1882.7}, 2.5, retAltC, retSC, bandHalfWidthC, trueAltC, trueSC, profileYTicksC,
  {x:heatXBinsC, y:heatYBinsC, v:heatValuesC}, {left:555.8, right:915, top:1454.8, bottom:1823.7}, {left:937, right:956}, 0.53, cbarTicksC, cbarLabelsC,
  {xTickY:1902, yTickX:64, hxTickY:1845, hyTickX:549});
profile("layer-d", {left:1099.4, right:1451.3, top:1449.6, bottom:1887.2}, 0.5, retAltD, retSD, bandHalfWidthD, trueAltD, trueSD, profileYTicksD,
  {x:heatXBinsD, y:heatYBinsD, v:heatValuesD}, {left:1600.8, right:1965, top:1458, bottom:1826}, {left:1987.7, right:2007.5}, 0.203, cbarTicksD, cbarLabelsD,
  {xTickY:1905, yTickX:1091.5, hxTickY:1848, hyTickX:1590});
</script>
</body>
</html>
